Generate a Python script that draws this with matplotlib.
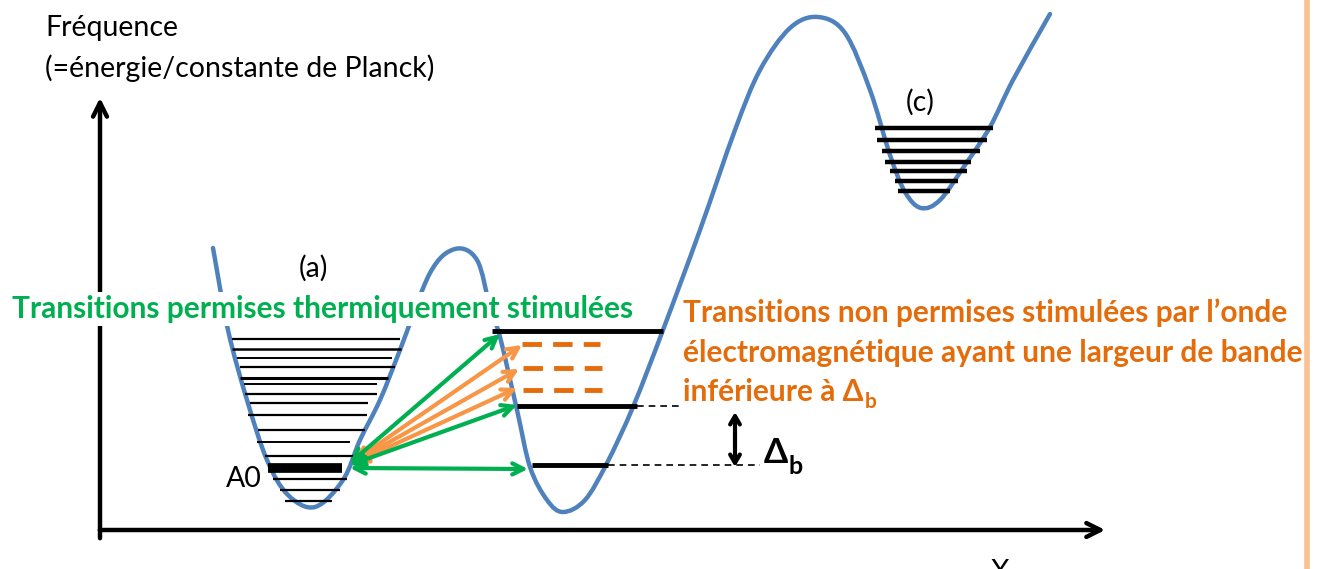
import numpy as np
import matplotlib.pyplot as plt
from matplotlib.path import Path
from matplotlib.patches import PathPatch

# Couleurs
BLEU = '#4F81BD'
VERT = '#00B050'
ORANGE = '#E46C0A'
ORANGE_CLAIR = '#F79646'

# Courbe de potentiel (en pixels)
courbe_x = [213, 228, 247, 267, 288, 315, 343, 360, 380, 400, 430, 455, 477, 490, 500, 517,
            530, 547, 563, 585, 607, 633, 663, 700, 735, 760, 790, 818, 845, 870, 890, 905,
            921, 940, 965, 990, 1013, 1050]
courbe_y = [248, 330, 400, 460, 495, 507, 480, 440, 400, 350, 273, 249, 260, 307, 337, 410,
            467, 500, 512, 500, 463, 407, 330, 230, 130, 70, 28, 17, 33, 90, 155, 192,
            208, 200, 165, 127, 80, 14]

# Niveaux du puits (a) : y, x debut, x fin, epaisseur
niv_a_y = [339, 349, 358, 367, 378, 384, 394, 403, 415, 430, 442, 456, 468, 479, 490, 501]
niv_a_x0 = [232, 232, 237, 240, 240, 244, 245, 250, 248, 258, 257, 265, 268, 273, 280, 285]
niv_a_x1 = [400, 401, 392, 395, 388, 377, 377, 368, 367, 365, 350, 355, 342, 347, 340, 332]
niv_a_lw = [1.6, 1.8, 1.4, 1.6, 2.2, 1.4, 1.6, 1.6, 1.6, 1.6, 1.4, 1.6, 7.0, 1.6, 1.6, 1.6]

# Niveaux du puits (c)
niv_c_y = [128, 140, 151, 162, 171, 181, 191]
niv_c_x0 = [875, 877, 882, 885, 890, 895, 898]
niv_c_x1 = [993, 987, 980, 971, 967, 958, 950]

# Niveaux du puits (b)
niv_b_y = [331, 406, 465]
niv_b_x0 = [492, 517, 532]
niv_b_x1 = [663, 637, 608]
pointille_x1 = [None, 682, 760]

# Niveaux interdits (tirets orange)
niv_int_y = [344, 368, 390]
niv_int_x0 = [522, 523, 523]
niv_int_x1 = [600, 602, 602]

# Transitions
fleches_vertes = [((350, 463), (500, 334)), ((350, 465), (517, 405)), ((350, 468), (528, 469))]
fleches_oranges = [((354, 461), (522, 345)), ((354, 462), (519, 369)), ((354, 463), (517, 388))]

fig = plt.figure(figsize=(13.21, 5.69), dpi=100)
ax = fig.add_axes([0, 0, 1, 1])
ax.set_xlim(0, 1321)
ax.set_ylim(569, 0)
ax.axis('off')
plt.rcParams['font.family'] = ['Lato', 'DejaVu Sans']

# Courbe lisse (Bezier) a travers les points
pts = np.column_stack([courbe_x, courbe_y]).astype(float)
tang = np.zeros_like(pts)
tang[1:-1] = (pts[2:] - pts[:-2]) / 2
tang[0] = pts[1] - pts[0]
tang[-1] = pts[-1] - pts[-2]
verts = [pts[0]]
codes = [Path.MOVETO]
for i in range(len(pts) - 1):
    verts += [pts[i] + tang[i] / 3, pts[i + 1] - tang[i + 1] / 3, pts[i + 1]]
    codes += [Path.CURVE4] * 3
ax.add_patch(PathPatch(Path(verts, codes), fc='none', ec=BLEU, lw=3.2, capstyle='round'))

# Axes
ax.annotate('', xy=(100, 95), xytext=(100, 541),
            arrowprops=dict(arrowstyle='->,head_length=1.0,head_width=0.5', lw=3.2, color='black'))
ax.annotate('', xy=(1108, 530), xytext=(97, 530),
            arrowprops=dict(arrowstyle='->,head_length=1.0,head_width=0.5', lw=3.2, color='black'))

# Niveaux
for y, x0, x1, lw in zip(niv_a_y, niv_a_x0, niv_a_x1, niv_a_lw):
    ax.plot([x0, x1], [y, y], color='black', lw=lw, solid_capstyle='butt')
for y, x0, x1 in zip(niv_c_y, niv_c_x0, niv_c_x1):
    ax.plot([x0, x1], [y, y], color='black', lw=3.2, solid_capstyle='butt')
for y, x0, x1, xp in zip(niv_b_y, niv_b_x0, niv_b_x1, pointille_x1):
    ax.plot([x0, x1], [y, y], color='black', lw=3.5, solid_capstyle='butt')
    if xp:
        ax.plot([x1, xp], [y, y], color='black', lw=1.2, ls=(0, (4, 3)))
for y, x0, x1 in zip(niv_int_y, niv_int_x0, niv_int_x1):
    ax.plot([x0, x1], [y, y], color=ORANGE, lw=3.5, ls=(0, (4, 2.3)))

# Transitions
for a, b in fleches_oranges:
    ax.annotate('', xy=b, xytext=a,
                arrowprops=dict(arrowstyle='<->,head_length=0.8,head_width=0.4', lw=3, color=ORANGE_CLAIR,
                                shrinkA=0, shrinkB=0))
for a, b in fleches_vertes:
    ax.annotate('', xy=b, xytext=a,
                arrowprops=dict(arrowstyle='<->,head_length=0.8,head_width=0.4', lw=3, color=VERT,
                                shrinkA=0, shrinkB=0))

# Delta b
ax.annotate('', xy=(735, 412), xytext=(735, 467),
            arrowprops=dict(arrowstyle='<->,head_length=0.6,head_width=0.35', lw=3, color='black',
                            shrinkA=0, shrinkB=0))
ax.text(764, 463, 'Δ', fontsize=25, fontweight='bold', color='black', va='baseline')
ax.text(789, 474, 'b', fontsize=18, fontweight='bold', color='black', va='baseline')

# Textes
ax.text(45, 36, 'Fréquence', fontsize=20.5, va='baseline')
ax.text(45, 77, '(=énergie/constante de Planck)', fontsize=20.5, va='baseline')
ax.text(313, 277, '(a)', fontsize=20.5, ha='center', va='baseline')
ax.text(920, 111, '(c)', fontsize=20.5, ha='center', va='baseline')
ax.text(226, 487, 'A0', fontsize=20.5, va='baseline')
ax.text(1000, 580, 'X', fontsize=20.5, ha='center', va='baseline')
ax.text(12, 318, 'Transitions permises thermiquement stimulées', fontsize=21.5, fontweight='bold',
        color=VERT, va='baseline', bbox=dict(fc='white', ec='none', pad=2))
ax.text(683, 322, 'Transitions non permises stimulées par l\u2019onde', fontsize=21.5, fontweight='bold',
        color=ORANGE, va='baseline')
ax.text(683, 362, 'électromagnétique ayant une largeur de bande', fontsize=21.5, fontweight='bold',
        color=ORANGE, va='baseline')
t_inf = ax.text(683, 401, 'inférieure à Δ', fontsize=21.5, fontweight='bold', color=ORANGE, va='baseline')

# indice b place juste apres le texte
fig.canvas.draw()
bb = t_inf.get_window_extent(fig.canvas.get_renderer())
x_fin = ax.transData.inverted().transform((bb.x1, bb.y0))[0]
ax.text(x_fin + 1, 408, 'b', fontsize=15, fontweight='bold', color=ORANGE, va='baseline')

# Bordure orange a droite
ax.plot([1307, 1307], [0, 569], color='#FAC090', lw=4)

fig.savefig('out.png', dpi=100)
